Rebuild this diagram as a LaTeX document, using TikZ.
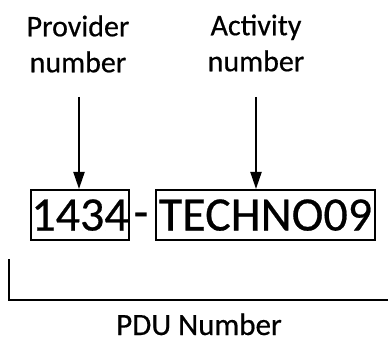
\documentclass[tikz,border=0pt]{standalone}
\usepackage{fontspec}
\setmainfont{Carlito}[FakeBold=0.5]
\usetikzlibrary{arrows.meta}
\begin{document}
\begin{tikzpicture}[x=1pt,y=-1pt,
  label/.style={font={\fontsize{30}{36}\selectfont}, align=center, inner sep=0pt},
  field/.style={draw, line width=2pt, inner sep=0pt, font={\fontsize{48}{50}\selectfont},
    minimum height=50pt, text height=31pt, text depth=0pt},
  arr/.style={line width=2pt, -{Triangle[length=17pt,width=11pt]}},
  bracket/.style={line width=2pt}]
\useasboundingbox (0,0) rectangle (388,339);
% labels above the fields
\node[label] (prov) at (78,44) {Provider\\number};
\node[label] (act) at (256,43) {Activity\\number};
% the two fields of the code
\node[field, minimum width=94pt] (b1) at (80,215) {1434};
\node[field, minimum width=219pt] (b2) at (265.5,215) {TECHNO09};
\node[font={\fontsize{48}{50}\selectfont}, inner sep=0pt, anchor=base] (dash) at (141,228) {-};
% arrows from the labels to the fields
\coordinate (p0) at (79,97);
\coordinate (a0) at (256,97);
\draw[arr] (p0) -- (p0 |- b1.north);
\draw[arr] (a0) -- (a0 |- b2.north);
% bracket spanning the whole number
\coordinate (k0) at (9,259);
\coordinate (k1) at (9,300);
\coordinate (k2) at (389,300);
\draw[bracket] (k0) -- (k1) -- (k2);
\node[font={\fontsize{31}{36}\selectfont}, inner sep=0pt, anchor=base] (pdu) at (199,335) {PDU Number};
\end{tikzpicture}
\end{document}
